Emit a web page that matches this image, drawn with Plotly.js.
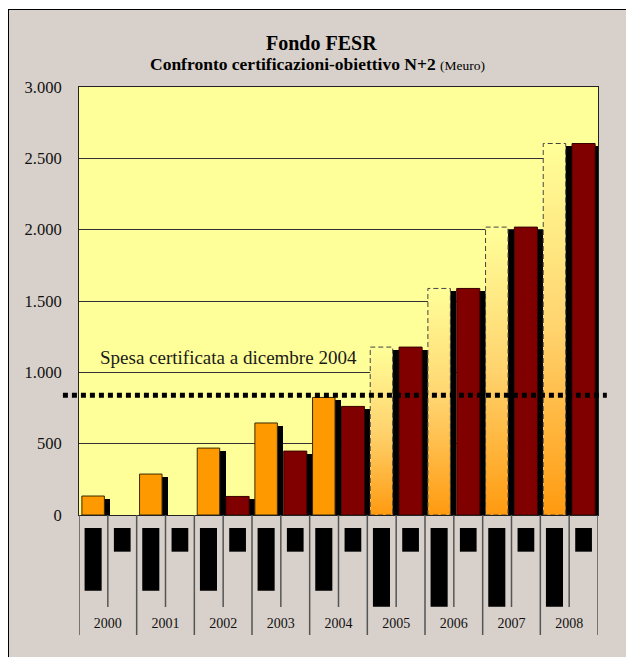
<!DOCTYPE html>
<html>
<head>
<meta charset="utf-8">
<script src="https://cdn.plot.ly/plotly-3.0.1.min.js"></script>
<style>
  html, body { margin:0; padding:0; background:#ffffff; overflow:hidden; width:626px; height:657px; }
  #frame { position:absolute; left:8px; top:9px; width:618px; height:648px; border-left:1px solid #000; border-top:1px solid #000; }
  #chart { width:618px; height:648px; }
</style>
</head>
<body>
<div id="frame"><div id="chart"></div></div>
<script>
// ---- data (Meuro) ----
const years        = ['2000', '2001', '2002', '2003', '2004', '2005', '2006', '2007', '2008'];
const certificata  = [133, 287, 469, 645, 824, null, null, null, null];     // spesa certificata
const obiettivoN2  = [0, 0, 130, 448, 761, 1177, 1588, 2018, 2604];         // obiettivo N+2
const previsione   = [null, null, null, null, null, 1177, 1588, 2018, 2604]; // spesa prevista (dashed, gradient)
const spesaDic2004 = 840;                                                   // dotted reference line
const yTicks       = [0, 500, 1000, 1500, 2000, 2500, 3000];

// ---- style constants ----
const SERIF = '"Liberation Serif", serif';
const offA = -0.255, wA = 0.39;   // first bar in group (certified / forecast)
const offB = 0.25,  wB = 0.40;    // second bar (N+2)
const shX = 0.104;                // shadow x-offset (~6px)
const shY = 21;                   // shadow y-offset (~3px)
const idx = years.map((_, i) => i);
const pos = v => (v == null || v <= 0) ? null : v;

function shadowTrace(vals, off, w) {
  return {
    type: 'bar', x: idx.map(i => i + off + shX),
    y: vals.map(v => (v == null || v <= shY) ? null : v - shY),
    width: w, marker: { color: '#000000', line: { width: 0 } },
    hoverinfo: 'skip', showlegend: false
  };
}

const traces = [
  shadowTrace(certificata, offA, wA),
  shadowTrace(previsione, offA, wA),
  shadowTrace(obiettivoN2, offB, wB),
  {
    type: 'bar', name: 'Spesa certificata', x: idx.map(i => i + offA), y: certificata.map(pos),
    width: wA, marker: { color: '#ff9900', line: { color: '#3a2a00', width: 1 } }, showlegend: false
  },
  {
    type: 'bar', name: 'Obiettivo N+2', x: idx.map(i => i + offB), y: obiettivoN2.map(pos),
    width: wB, marker: { color: '#800000', line: { color: '#3a0000', width: 1 } }, showlegend: false
  }
];

// forecast boxes: dashed outline with vertical gradient, one trace per year
previsione.forEach((v, i) => {
  if (v == null) return;
  const x0 = i + offA - wA / 2, x1 = i + offA + wA / 2;
  traces.push({
    type: 'scatter', mode: 'lines', showlegend: false, hoverinfo: 'skip',
    x: [x0, x0, x1, x1, x0], y: [0, v, v, 0, 0],
    fill: 'toself',
    fillgradient: { type: 'vertical', colorscale: [[0, '#ff9a10'], [0.5, '#ffd36e'], [1, '#ffff99']] },
    line: { color: '#444444', width: 1, dash: '5px,3px' }
  });
});

// ---- shapes: reference line + table below the axis ----
const shapes = [
  { type: 'line', xref: 'paper', yref: 'y', x0: -0.031, x1: 1.017, y0: spesaDic2004, y1: spesaDic2004,
    line: { color: '#000', width: 5, dash: '5px,4px' }, layer: 'above' }
];
for (let i = 0; i <= years.length; i++) {
  shapes.push({ type: 'line', xref: 'x', yref: 'paper', x0: i - 0.5, x1: i - 0.5, y0: 0, y1: -0.2804,
    line: { color: '#555', width: 1.5 } });
}
years.forEach((_, i) => {
  shapes.push({ type: 'line', xref: 'x', yref: 'paper', x0: i, x1: i, y0: 0, y1: -0.215,
    line: { color: '#555', width: 1.5 } });
  const longA = previsione[i] != null;
  shapes.push({ type: 'rect', xref: 'x', yref: 'paper', x0: i + offA - 0.148, x1: i + offA + 0.148,
    y0: -0.0304, y1: longA ? -0.2143 : -0.1769, fillcolor: '#000', line: { width: 0 } });
  shapes.push({ type: 'rect', xref: 'x', yref: 'paper', x0: i + offB - 0.145, x1: i + offB + 0.145,
    y0: -0.0304, y1: -0.0857, fillcolor: '#000', line: { width: 0 } });
});

const layout = {
  width: 618, height: 648,
  margin: { l: 70, r: 29, t: 77, b: 143, pad: 0 },
  paper_bgcolor: '#d8d0ca', plot_bgcolor: '#ffff99',
  separators: ',.',
  barmode: 'overlay', bargap: 0,
  showlegend: false,
  font: { family: SERIF, color: '#111' },
  xaxis: {
    range: [-0.5, years.length - 0.5], tickmode: 'array', tickvals: idx, ticktext: years,
    ticks: '', showgrid: false, zeroline: false, showline: true, mirror: true,
    linecolor: '#222', linewidth: 1, ticklabelstandoff: 95,
    tickfont: { family: SERIF, size: 14, color: '#111' }, fixedrange: true
  },
  yaxis: {
    range: [0, 3000], tickmode: 'array', tickvals: yTicks, tickformat: ',d',
    ticks: '', showgrid: true, gridcolor: '#333', gridwidth: 1, zeroline: false,
    showline: true, mirror: true, linecolor: '#222', linewidth: 1,
    ticklabelstandoff: 13, tickfont: { family: SERIF, size: 16.5, color: '#111' }, fixedrange: true
  },
  shapes: shapes,
  annotations: [
    { xref: 'paper', yref: 'paper', x: 0.4672, y: 1.1028, xanchor: 'center', yanchor: 'middle',
      text: '<b>Fondo FESR</b>', showarrow: false, font: { family: SERIF, size: 20, color: '#000' } },
    { xref: 'paper', yref: 'paper', x: 0.4605, y: 1.0542, xanchor: 'center', yanchor: 'middle',
      text: '<b>Confronto certificazioni-obiettivo N+2</b> <span style="font-size:13.5px">(Meuro)</span>',
      showarrow: false, font: { family: SERIF, size: 17.5, color: '#000' } },
    { xref: 'paper', yref: 'paper', x: 0.0372, y: 0.368, xanchor: 'left', yanchor: 'middle',
      text: 'Spesa certificata a dicembre 2004', showarrow: false,
      font: { family: SERIF, size: 19, color: '#1a1a1a' } }
  ]
};

Plotly.newPlot('chart', traces, layout, { staticPlot: true, displayModeBar: false });
</script>
</body>
</html>
